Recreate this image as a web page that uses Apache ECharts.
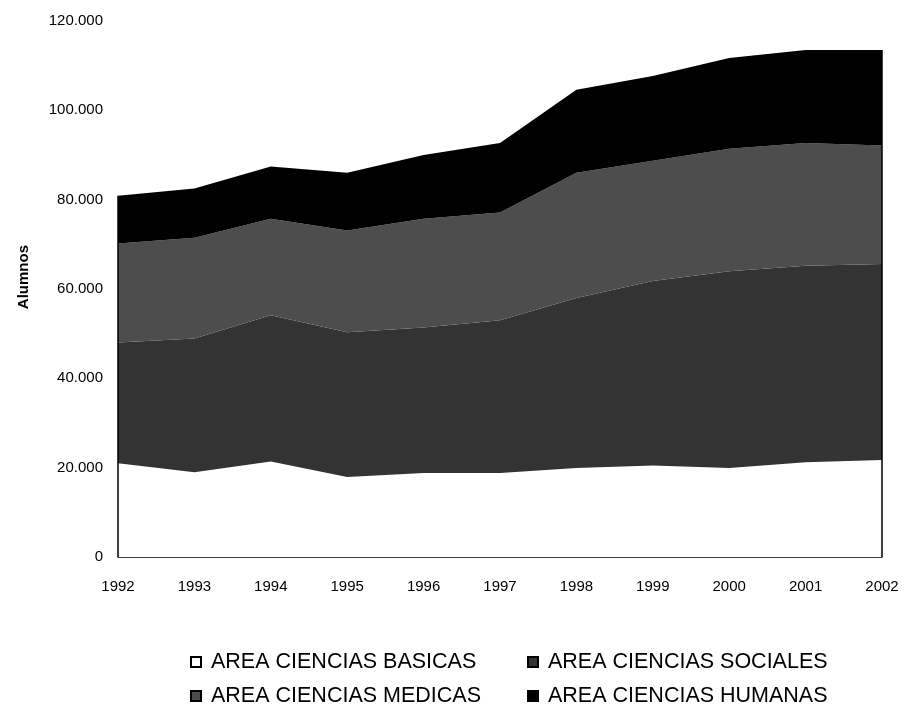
<!DOCTYPE html>
<html>
<head>
<meta charset="utf-8">
<script src="https://cdn.jsdelivr.net/npm/echarts@6/dist/echarts.min.js"></script>
<style>html,body{margin:0;padding:0;background:#fff}#c{width:909px;height:707px}</style>
</head>
<body>
<div id="c"></div>
<script>
const years = ['1992','1993','1994','1995','1996','1997','1998','1999','2000','2001','2002'];
const basicas  = [21000,19000,21400,17900,18800,18800,19900,20500,19900,21200,21700];
const sociales = [27000,29900,32700,32400,32600,34200,38100,41300,44100,44000,43900];
const medicas  = [22200,22600,21600,22800,24300,24100,28000,26900,27400,27500,26500];
const humanas  = [10700,11000,11700,12900,14300,15600,18600,19000,20300,20800,21400];
const yTicks = [0,20000,40000,60000,80000,100000,120000];
const names = ['AREA CIENCIAS BASICAS','AREA CIENCIAS SOCIALES','AREA CIENCIAS MEDICAS','AREA CIENCIAS HUMANAS'];

const fmt = v => v === 0 ? '0' : String(v).replace(/\B(?=(\d{3})+(?!\d))/g, '.');
const totals = years.map((_, i) => basicas[i] + sociales[i] + medicas[i] + humanas[i]);
const last = years.length - 1;

const chart = echarts.init(document.getElementById('c'));
const numFont = '"Liberation Sans", Arial, sans-serif';
const legFont = '"Liberation Sans", Arial, sans-serif';

function ser(name, data, color) {
  return {
    name, type: 'line', stack: 'total', data,
    showSymbol: false, symbol: 'none',
    lineStyle: { width: 0 },
    areaStyle: { color: color, opacity: 1 },
    itemStyle: { color: color, borderColor: '#000', borderWidth: 1 },
    emphasis: { disabled: true }
  };
}

const sHum = ser(names[3], humanas, '#000000');
sHum.markLine = {
  silent: true, symbol: 'none', animation: false, label: { show: false },
  lineStyle: { color: '#000', width: 1.5, type: 'solid' },
  data: [
    [{ coord: [years[0], 0] }, { coord: [years[0], totals[0]] }],
    [{ coord: [years[last], 0] }, { coord: [years[last], totals[last]] }]
  ]
};

function leg(name, left, top) {
  return { data: [name], left, top, itemWidth: 10, itemHeight: 10, icon: 'rect',
    textStyle: { color: '#000', fontFamily: legFont, fontSize: 21.5, padding: [0, 0, 0, 5] } };
}

chart.setOption({
  animation: false,
  backgroundColor: '#fff',
  grid: { left: 118, right: 27, top: 21, bottom: 150 },
  xAxis: {
    type: 'category', data: years, boundaryGap: false,
    axisLine: { lineStyle: { color: '#000', width: 1.5 } },
    axisTick: { show: false },
    axisLabel: { color: '#000', fontFamily: numFont, fontSize: 15, margin: 22 },
    splitLine: { show: false }
  },
  yAxis: {
    type: 'value', min: 0, max: 120000, interval: 20000,
    axisLine: { show: false }, axisTick: { show: false },
    splitLine: { show: false },
    axisLabel: { color: '#000', fontFamily: numFont, fontSize: 15, margin: 15,
      formatter: v => yTicks.includes(v) ? fmt(v) : '' }
  },
  graphic: [{
    type: 'text', left: 16, top: 245, rotation: Math.PI / 2,
    style: { text: 'Alumnos', font: 'bold 15px "Liberation Sans", Arial, sans-serif', fill: '#000' }
  }],
  legend: [
    leg(names[0], 185, 646),
    leg(names[1], 522, 646),
    leg(names[2], 185, 680),
    leg(names[3], 522, 680)
  ],
  series: [
    ser(names[0], basicas, '#ffffff'),
    ser(names[1], sociales, '#333333'),
    ser(names[2], medicas, '#4d4d4d'),
    sHum
  ]
});
</script>
</body>
</html>
